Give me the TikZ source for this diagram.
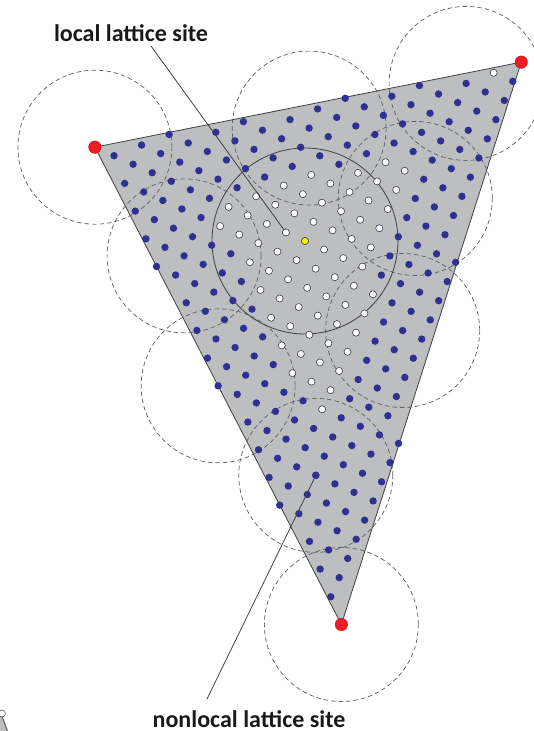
\documentclass[tikz,border=0pt]{standalone}
\usepackage{fontspec}
\setmainfont{Carlito}
\usepackage{tikz}
\definecolor{cazul}{HTML}{2E3192}
\definecolor{cgris}{HTML}{BCBEC0}
\definecolor{clinea}{HTML}{414042}
\definecolor{crojo}{HTML}{ED1C24}
\definecolor{camarillo}{HTML}{FFF200}
\tikzset{
  puntonl/.style={fill=cazul},
  puntol/.style={fill=white, draw=clinea, line width=0.5pt},
  sitionl/.style={circle, fill=cazul, inner sep=0pt, minimum size=7.4pt},
  sitiol/.style={circle, fill=white, draw=clinea, line width=0.5pt, inner sep=0pt, minimum size=7pt},
  sitioc/.style={sitiol, fill=camarillo},
  vertice/.style={circle, fill=crojo, draw=crojo!75!black, line width=0.3pt, inner sep=0pt, minimum size=12.6pt},
  radio/.style={draw=clinea!85, line width=0.7pt, dash pattern=on 4.5pt off 3pt},
  linea/.style={draw=clinea, line width=0.8pt},
  etq/.style={font=\fontsize{24}{27}\selectfont\bfseries, text=black!90, inner sep=0pt},
}

\begin{document}
\begin{tikzpicture}[x=1pt,y=-1pt]
  \useasboundingbox (0,0) rectangle (533,731);
  % red cristalina: ejes a lo largo de la red
  \begin{scope}[shift={(305pt,-241pt)}, x={(19.1pt,-8.53pt)}, y={(8.47pt,19.17pt)}]
    \coordinate (A) at (-11,0);
    \coordinate (B) at (6,12);
    \coordinate (C) at (9,-16);
    \fill[cgris] (A) -- (B) -- (C) -- cycle;
    % radios de corte
    \foreach \i/\j in {-11/0, -2/5, 4/10, -5/-3, 4/4, -1/-8, 6/-2, 5/-10, 9/-16}
      \draw[radio] (\i,\j) circle[radius=77pt];
    \draw[linea] (0,0) circle[radius=93pt];
    \draw[linea] (A) -- (B) -- (C) -- cycle;
    % sitios no locales
    \foreach \i in {-10,...,8}{
      \pgfmathtruncatemacro\jlo{ceil((-176-16*(\i))/20-0.001)}
      \pgfmathtruncatemacro\jhi{floor(min((12*(\i)+132)/17,(204-28*(\i))/3)+0.001)}
      \foreach \j in {\jlo,...,\jhi}
        \fill[puntonl] (\i,\j) circle[radius=3.7pt];
    }
    % sitios locales
    \foreach \j/\ilo/\ihi in {5/2/3, 4/1/3, 3/-1/3, 2/-2/3, 1/-3/3, 0/-4/3,
        -1/-4/4, -2/-2/4, -3/-1/4, -4/0/4, -5/1/4, -6/2/4, -7/4/4}
      \foreach \i in {\ilo,...,\ihi}
        \filldraw[puntol] (\i,\j) circle[radius=3.5pt];
    \filldraw[puntol] (5,11) circle[radius=3.5pt];
    \node[sitioc] (centro) at (0,0) {};
    \node[sitiol] (loc) at (-1,0) {};
    \node[sitionl] (nloc) at (5,-10) {};
    \node[vertice] (vA) at (A) {};
    \node[vertice] (vB) at (B) {};
    \node[vertice] (vC) at (C) {};
  \end{scope}
  % etiquetas
  \node[etq, anchor=base] (etqloc) at (131,41.5) {local lattice site};
  \node[etq, anchor=base] (etqnloc) at (249,727) {nonlocal lattice site};
  \coordinate (cloc) at (151,46);
  \coordinate (cnloc) at (207,699);
  \draw[linea] (cloc) -- (loc);
  \draw[linea] (cnloc) -- (nloc);
  % resto de la figura vecina
  \fill[cgris] (0,716) -- (2,716) -- (7.5,731) -- (0,731) -- cycle;
  \draw[linea] (2,716) -- (7.5,731);
  \filldraw[puntol] (2,713.5) circle[radius=3.5pt];
\end{tikzpicture}
\end{document}
